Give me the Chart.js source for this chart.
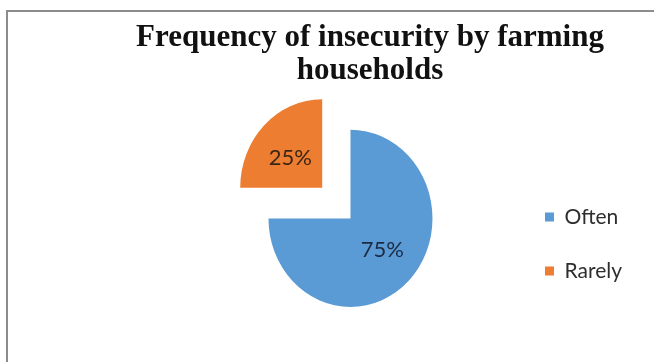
<!DOCTYPE html>
<html>
<head>
<meta charset="utf-8">
<script src="https://cdn.jsdelivr.net/npm/chart.js@4/dist/chart.umd.min.js"></script>
<style>
  html, body { margin: 0; padding: 0; background: #ffffff; overflow: hidden; }
  #frame { position: absolute; left: 6px; top: 10px; width: 700px; height: 400px;
           border-top: 2px solid #8c8c8c; border-left: 2px solid #8c8c8c; box-sizing: border-box; }
  #wrap { position: absolute; left: 0; top: 0; width: 654px; height: 362px; }
</style>
</head>
<body>
<div id="frame"></div>
<div id="wrap"><canvas id="c" width="654" height="362"></canvas></div>
<script>
const titleLines = ['Frequency of insecurity by farming', 'households'];
const categories = ['Often', 'Rarely'];
const percentages = [75, 25];
const sliceColors = ['#5B9BD5', '#ED7D31'];
const labelColors = ['#1c2a44', '#3a2616'];

const ySquash = 1.08; // reference pie is slightly taller than wide

// empty layout box on the left so the pie sits left of the title's centre
const leftSpacer = {
  id: 'leftSpacer',
  beforeInit(chart) {
    Chart.layouts.addBox(chart, {
      position: 'left',
      weight: 0,
      fullSize: false,
      options: {},
      width: 0,
      height: 0,
      isHorizontal() { return false; },
      update(maxWidth, maxHeight) { this.width = 81; this.height = maxHeight; },
      draw() {}
    });
  }
};

const ellipsePlugin = {
  id: 'ellipse',
  beforeDatasetsDraw(chart) {
    const ctx = chart.ctx;
    const a = chart.chartArea;
    const cy = (a.top + a.bottom) / 2;
    ctx.save();
    ctx.translate(0, cy);
    ctx.scale(1, ySquash);
    ctx.translate(0, -cy);
  },
  afterDatasetsDraw(chart) {
    const ctx = chart.ctx;
    ctx.restore();
    const meta = chart.getDatasetMeta(0);
    const data = chart.data.datasets[0].data;
    const total = data.reduce((s, v) => s + v, 0);
    ctx.save();
    ctx.font = '22px Lato';
    ctx.textAlign = 'center';
    ctx.textBaseline = 'middle';
    meta.data.forEach((arc, i) => {
      const p = arc.getProps(['x', 'y', 'startAngle', 'endAngle', 'outerRadius'], true);
      const mid = (p.startAngle + p.endAngle) / 2;
      const off = (arc.options.offset || 0) / 4;
      const d = off + p.outerRadius * 0.55;
      ctx.fillStyle = labelColors[i];
      ctx.fillText(Math.round(data[i] / total * 100) + '%', p.x + Math.cos(mid) * d, p.y + Math.sin(mid) * d);
    });
    ctx.restore();
  }
};

new Chart(document.getElementById('c'), {
  type: 'pie',
  data: {
    labels: categories,
    datasets: [{
      data: percentages,
      backgroundColor: sliceColors,
      borderWidth: 0,
      offset: [0, 160],
      clip: false
    }]
  },
  options: {
    responsive: false,
    animation: false,
    radius: 82,
    layout: { padding: { left: 108, right: 22, top: 0, bottom: 47.5 } },
    plugins: {
      tooltip: { enabled: false },
      title: {
        display: true,
        text: titleLines,
        color: '#111111',
        font: { family: 'Liberation Serif', size: 31, weight: 'bold', lineHeight: 1.07 },
        padding: { top: 21, bottom: 35 }
      },
      legend: {
        position: 'right',
        fullSize: false,
        align: 'end',
        labels: {
          boxWidth: 9,
          boxHeight: 9,
          padding: 33,
          color: '#2e2e2e',
          font: { family: 'Lato', size: 21 }
        }
      }
    }
  },
  plugins: [leftSpacer, ellipsePlugin]
});
</script>
</body>
</html>
